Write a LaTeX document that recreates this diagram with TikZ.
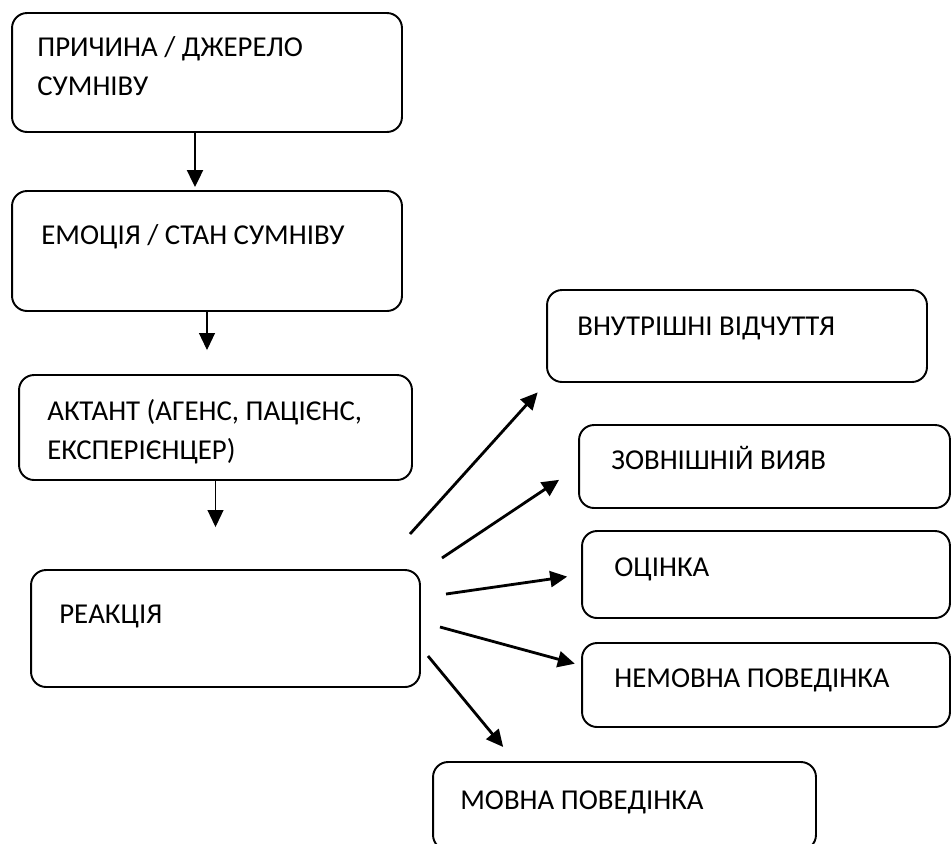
\documentclass[tikz,border=0pt]{standalone}
\usepackage{fontspec}
\setmainfont{Carlito}
\usetikzlibrary{arrows.meta}

\begin{document}
\begin{tikzpicture}[x=0.02cm,y=-0.02cm,
  box/.style={draw, line width=1.1pt, rounded corners=0.3cm, inner sep=0pt, outer sep=0pt},
  txt/.style={anchor=base west, align=left, inner sep=0pt, font=\fontsize{16.4}{22.2}\selectfont},
  arr/.style={-{Triangle[length=0.34cm,width=0.32cm]}},
  fan/.style={arr, line width=1.6pt}]

\useasboundingbox (0,0) rectangle (952,843);

\node[box, minimum width=7.8cm, minimum height=2.38cm] (cause) at (207,72.5) {};
\node[box, minimum width=7.8cm, minimum height=2.4cm] (emotion) at (207,251) {};
\node[box, minimum width=7.86cm, minimum height=2.1cm] (actant) at (215.5,427.5) {};
\node[box, minimum width=7.78cm, minimum height=2.34cm] (reaction) at (225.5,628.5) {};

\node[box, minimum width=7.6cm, minimum height=1.84cm] (inner) at (737,336) {};
\node[box, minimum width=7.42cm, minimum height=1.66cm] (outer) at (764.5,466.5) {};
\node[box, minimum width=7.36cm, minimum height=1.74cm] (appraisal) at (766,574.5) {};
\node[box, minimum width=7.36cm, minimum height=1.68cm] (nonverbal) at (766,685) {};
\node[box, minimum width=7.66cm, minimum height=1.76cm] (verbal) at (624.5,806) {};

\node[txt] (causetext) at (37,95) {ПРИЧИНА / ДЖЕРЕЛО\\СУМНІВУ};
\node[txt] (emotiontext) at (41,244) {ЕМОЦІЯ / СТАН СУМНІВУ};
\node[txt] (actanttext) at (47,459) {АКТАНТ (АГЕНС, ПАЦІЄНС,\\ЕКСПЕРІЄНЦЕР)};
\node[txt] (reactiontext) at (59,623) {РЕАКЦІЯ};
\node[txt] (innertext) at (577,335) {ВНУТРІШНІ ВІДЧУТТЯ};
\node[txt] (outertext) at (611,469) {ЗОВНІШНІЙ ВИЯВ};
\node[txt] (appraisaltext) at (614,576) {ОЦІНКА};
\node[txt] (nonverbaltext) at (614,687) {НЕМОВНА ПОВЕДІНКА};
\node[txt] (verbaltext) at (460,809) {МОВНА ПОВЕДІНКА};

\draw[arr, line width=1.3pt, shorten >=0.08cm] ([xshift=-0.24cm]cause.south) -- ([xshift=-0.24cm]emotion.north);
\draw[arr, line width=0.6pt, shorten >=0.5cm] (emotion.south) -- (emotion.south |- actant.north);
\draw[arr, line width=0.6pt, shorten >=0.86cm] (actant.south) -- (actant.south |- reaction.north);

\coordinate (f1) at (410,534);
\coordinate (f2) at (442,558);
\coordinate (f3) at (446,594);
\coordinate (f4) at (440,627);
\coordinate (f5) at (428,656);

\draw[fan, shorten >=0.28cm] (f1) -- (inner.south west);
\draw[fan, shorten >=0.48cm] (f2) -- (outer.west);
\draw[fan, shorten >=0.3cm] (f3) -- (appraisal.west);
\draw[fan, shorten >=0.15cm] (f4) -- (nonverbal.174);
\draw[fan, shorten >=0.39cm] (f5) -- (verbal.158);

\end{tikzpicture}
\end{document}
